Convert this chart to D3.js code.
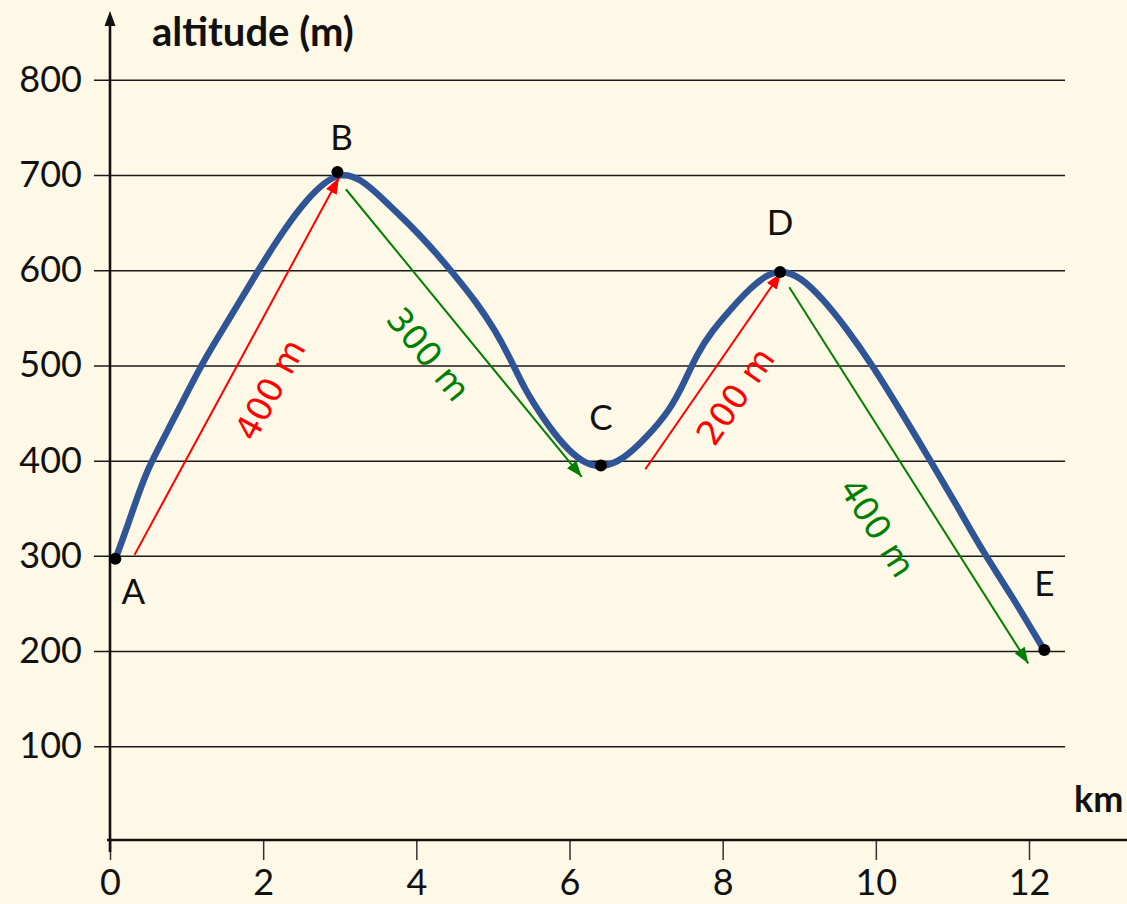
<!DOCTYPE html>
<html>
<head>
<meta charset="utf-8">
<script src="https://cdn.jsdelivr.net/npm/d3@7"></script>
<style>
  html, body { margin: 0; padding: 0; background: #fef8e7; }
  svg { display: block; }
</style>
</head>
<body>
<svg id="chart" width="1127" height="904"></svg>
<script>
// ---- data ----
const xTicks = [0, 2, 4, 6, 8, 10, 12];
const yTicks = [100, 200, 300, 400, 500, 600, 700, 800];
const xTitle = "km";
const yTitle = "altitude (m)";

// altitude profile (km, m)
const profileKm = [0.074, 0.196, 0.353, 0.500, 0.849, 1.197, 1.567, 1.936, 2.285, 2.585, 2.807, 3.003,
  3.264, 3.565, 3.917, 4.179, 4.479, 4.792, 5.027, 5.223, 5.419, 5.654, 5.915, 6.176, 6.411,
  6.699, 7.012, 7.313, 7.495, 7.665, 7.861, 8.096, 8.357, 8.579, 8.749,
  9.010, 9.310, 9.624, 9.963, 10.316, 10.708, 11.061, 11.400, 11.753, 12.197];
const profileAlt = [297.4, 324.0, 360.8, 393.6, 445.8, 502.2, 549.8, 600.2, 644.3, 675.8, 692.5, 702.0,
  697.0, 674.8, 647.5, 625.4, 597.1, 565.6, 537.2, 507.8, 474.2, 444.8, 416.4, 397.6, 392.4,
  400.7, 424.8, 453.2, 481.5, 512.0, 536.2, 558.2, 581.3, 595.0, 600.0,
  593.8, 569.7, 538.2, 499.3, 453.2, 400.7, 352.4, 304.1, 261.0, 201.1];

// named points
const pointNames = ["A", "B", "C", "D", "E"];
const pointKm = [0.07, 2.97, 6.41, 8.75, 12.2];
const pointAlt = [297, 703, 395, 598, 201];

// difference arrows
const arrowLabels = ["400 m", "300 m", "200 m", "400 m"];
const arrowColors = ["#ff0000", "#008000", "#ff0000", "#008000"];
const arrowFromKm = [0.32, 3.08, 6.99, 8.87];
const arrowFromAlt = [301, 685, 391, 582];
const arrowToKm = [2.99, 6.16, 8.76, 11.99];
const arrowToAlt = [697, 383, 597, 187];

// ---- layout ----
const svg = d3.select("#chart");
const FONT = "Lato, 'Noto Sans', sans-serif";
svg.append("rect").attr("width", 1127).attr("height", 904).attr("fill", "#fef8e7");

const x = d3.scaleLinear().domain([0, 12]).range([110, 1029]);
const y = d3.scaleLinear().domain([0, 800]).range([841.5, 79.75]);

// grid lines
const grid = svg.append("g").attr("transform", "translate(94,0)")
  .call(d3.axisRight(y).tickValues(yTicks).tickSize(971).tickFormat(""));
grid.select(".domain").remove();
grid.selectAll("line").attr("stroke", "#1a1a1a").attr("stroke-width", 1.5);

// y tick labels
const yAx = svg.append("g").attr("transform", "translate(110,0)")
  .call(d3.axisLeft(y).tickValues(yTicks).tickSize(0).tickPadding(28));
yAx.select(".domain").remove();
yAx.selectAll("text").attr("font-family", FONT).attr("font-size", 36).attr("fill", "#111");

// x axis ticks and labels
const xAx = svg.append("g").attr("transform", "translate(0,840)")
  .call(d3.axisBottom(x).tickValues(xTicks).tickSize(20).tickPadding(9));
xAx.select(".domain").remove();
xAx.selectAll("line").attr("stroke", "#333").attr("stroke-width", 1.5);
xAx.selectAll("text").attr("font-family", FONT).attr("font-size", 36).attr("fill", "#111");

// axis lines
svg.append("line").attr("x1", 110).attr("x2", 110).attr("y1", 24).attr("y2", 852)
  .attr("stroke", "#111").attr("stroke-width", 2.6);
svg.append("line").attr("x1", 107).attr("x2", 1127).attr("y1", 840).attr("y2", 840)
  .attr("stroke", "#111").attr("stroke-width", 2.6);
svg.append("path").attr("d", "M110,11 L104.5,26 L115.5,26 Z").attr("fill", "#111");

// axis titles
svg.append("text").attr("x", 152).attr("y", 46).text(yTitle)
  .attr("font-family", FONT).attr("font-weight", "bold").attr("font-size", 40).attr("fill", "#111");
svg.append("text").attr("x", 1074).attr("y", 812).text(xTitle)
  .attr("font-family", FONT).attr("font-weight", "bold").attr("font-size", 36).attr("fill", "#111");

// profile curve
const profile = profileKm.map((k, i) => [k, profileAlt[i]]);
svg.append("path").datum(profile)
  .attr("d", d3.line().x(d => x(d[0])).y(d => y(d[1])).curve(d3.curveBasis))
  .attr("fill", "none").attr("stroke", "#2f5597").attr("stroke-width", 6.5)
  .attr("stroke-linejoin", "round").attr("stroke-linecap", "round");

// arrow markers
const defs = svg.append("defs");
["#ff0000", "#008000"].forEach((c, i) => {
  defs.append("marker").attr("id", "ah" + i).attr("viewBox", "0 0 16 12")
    .attr("refX", 16).attr("refY", 6).attr("markerWidth", 16).attr("markerHeight", 12)
    .attr("markerUnits", "userSpaceOnUse").attr("orient", "auto")
    .append("path").attr("d", "M0,0 L16,6 L0,12 Z").attr("fill", c);
});

// label offsets (pixels, style)
const labelOffset = [[33, 23], [-35, 21], [22, 25], [-31, 52]];
arrowLabels.forEach((lab, i) => {
  const x1 = x(arrowFromKm[i]), y1 = y(arrowFromAlt[i]);
  const x2 = x(arrowToKm[i]), y2 = y(arrowToAlt[i]);
  svg.append("line").attr("x1", x1).attr("y1", y1).attr("x2", x2).attr("y2", y2)
    .attr("stroke", arrowColors[i]).attr("stroke-width", 2)
    .attr("marker-end", "url(#ah" + (arrowColors[i] === "#ff0000" ? 0 : 1) + ")");
  let ang = Math.atan2(y2 - y1, x2 - x1) * 180 / Math.PI;
  if (ang < -90) ang += 180;
  if (ang > 90) ang -= 180;
  const cx = (x1 + x2) / 2 + labelOffset[i][0], cy = (y1 + y2) / 2 + labelOffset[i][1];
  svg.append("text").attr("transform", `translate(${cx},${cy}) rotate(${ang})`)
    .attr("text-anchor", "middle").attr("dy", "0.36em")
    .attr("font-family", "'DejaVu Sans', Verdana, sans-serif").attr("font-size", 34)
    .attr("fill", arrowColors[i]).text(lab);
});

// points and names
const nameOffset = [[18, 45], [4, -22], [0, -35], [0, -37], [0, -54]];
pointNames.forEach((n, i) => {
  const px = x(pointKm[i]), py = y(pointAlt[i]);
  svg.append("circle").attr("cx", px).attr("cy", py).attr("r", 6).attr("fill", "#000");
  svg.append("text").attr("x", px + nameOffset[i][0]).attr("y", py + nameOffset[i][1])
    .attr("text-anchor", "middle").attr("font-family", FONT).attr("font-size", 35)
    .attr("fill", "#111").text(n);
});
</script>
</body>
</html>
